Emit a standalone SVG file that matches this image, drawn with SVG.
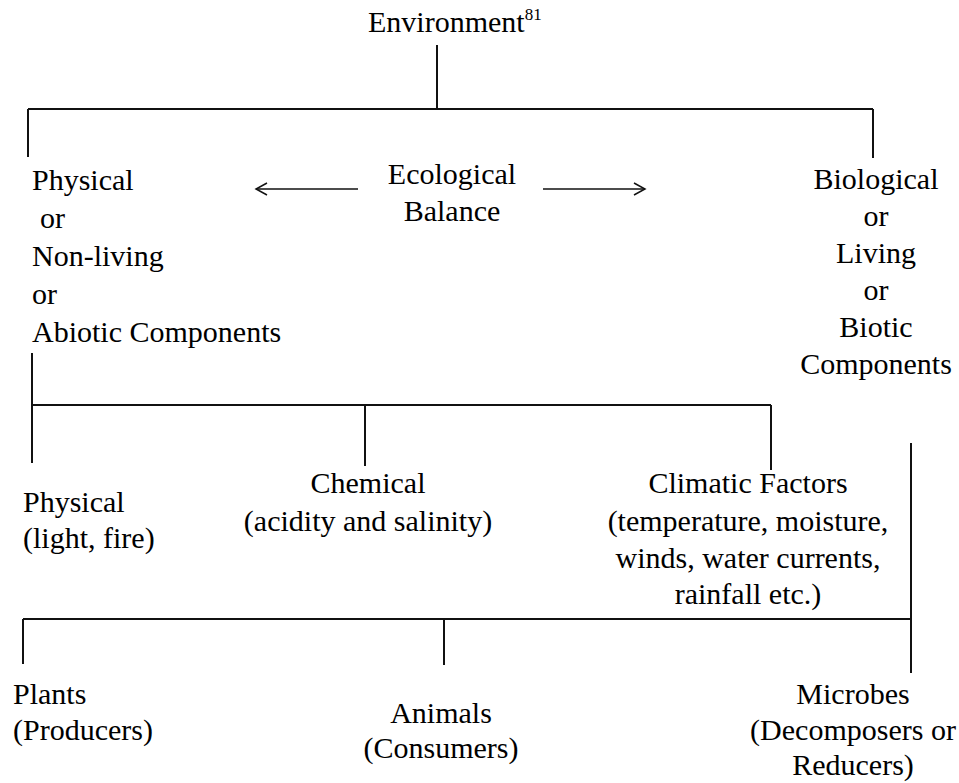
<svg xmlns="http://www.w3.org/2000/svg" width="959" height="783" viewBox="0 0 959 783">
<style>
text{font-family:"Liberation Serif","Times New Roman",serif;font-size:30px;fill:#000}
.c{text-anchor:middle}
.ln{stroke:#111;stroke-width:2;fill:none}
.ar{stroke:#111;stroke-width:1.5;fill:none}
</style>
<defs>
<marker id="ah" markerWidth="14" markerHeight="14" refX="12" refY="7" orient="auto" markerUnits="userSpaceOnUse">
<path d="M1,1 L12,7 L1,13" fill="none" stroke="#111" stroke-width="1.5"/>
</marker>
</defs>
<rect width="959" height="783" fill="#fff"/>
<g id="connectors">
<path class="ln" d="M437,45 V109 M28,109 H873 M28,109 V157 M873,109 V158"/>
<path class="ar" d="M358,189 H256" marker-end="url(#ah)"/>
<path class="ar" d="M543,189 H645" marker-end="url(#ah)"/>
<path class="ln" d="M32,353 V463 M32,405 H771 M365,405 V466 M771,405 V470"/>
<path class="ln" d="M911,443 V673 M23,619 H911 M23,619 V664 M444,619 V665"/>
</g>
<g id="environment"><text x="368" y="32">Environment<tspan font-size="17" dy="-12">81</tspan></text></g>
<g id="abiotic">
<text x="32" y="190">Physical</text>
<text x="40" y="228">or</text>
<text x="32" y="266">Non-living</text>
<text x="32" y="304">or</text>
<text x="32" y="342">Abiotic Components</text>
</g>
<g id="balance">
<text x="452" y="184" class="c">Ecological</text>
<text x="452" y="221" class="c">Balance</text>
</g>
<g id="biotic">
<text x="876" y="189" class="c">Biological</text>
<text x="876" y="226" class="c">or</text>
<text x="876" y="263" class="c">Living</text>
<text x="876" y="300" class="c">or</text>
<text x="876" y="337" class="c">Biotic</text>
<text x="876" y="374" class="c">Components</text>
</g>
<g id="physical">
<text x="23" y="512">Physical</text>
<text x="23" y="548">(light, fire)</text>
</g>
<g id="chemical">
<text x="368" y="493" class="c">Chemical</text>
<text x="368" y="531" class="c">(acidity and salinity)</text>
</g>
<g id="climatic">
<text x="748" y="493" class="c">Climatic Factors</text>
<text x="748" y="531" class="c">(temperature, moisture,</text>
<text x="748" y="568" class="c">winds, water currents,</text>
<text x="748" y="604" class="c">rainfall etc.)</text>
</g>
<g id="plants">
<text x="13" y="704">Plants</text>
<text x="13" y="740">(Producers)</text>
</g>
<g id="animals">
<text x="441" y="723" class="c">Animals</text>
<text x="441" y="758" class="c">(Consumers)</text>
</g>
<g id="microbes">
<text x="853" y="704" class="c">Microbes</text>
<text x="853" y="740" class="c">(Decomposers or</text>
<text x="853" y="775" class="c">Reducers)</text>
</g>
</svg>
